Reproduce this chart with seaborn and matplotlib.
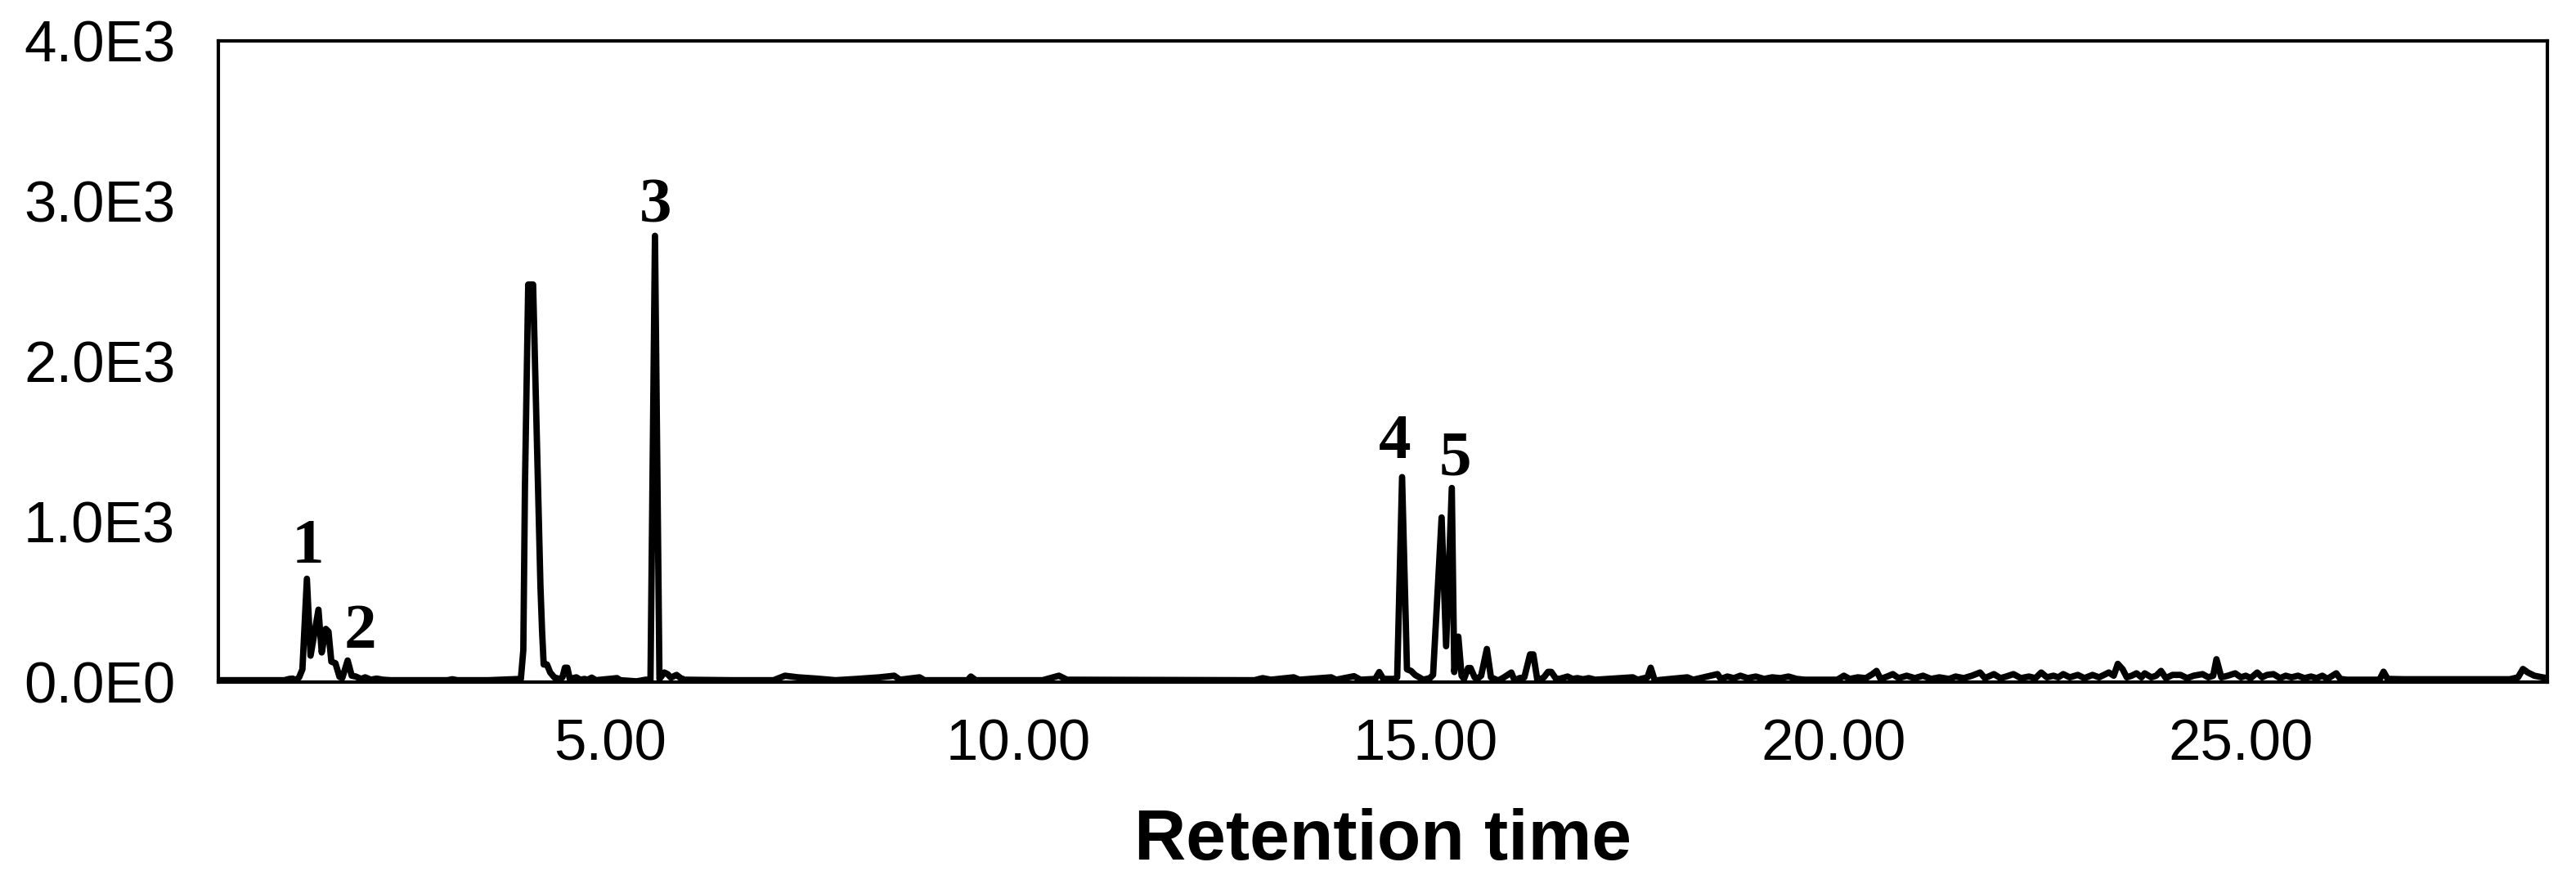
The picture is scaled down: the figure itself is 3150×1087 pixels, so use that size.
import pandas as pd
import seaborn as sns
import matplotlib
matplotlib.use("Agg")
import matplotlib.pyplot as plt

# Chromatogram trace (minutes, signal)
time_min = [
    0.19, 0.50, 0.80, 1.00, 1.06, 1.10, 1.14, 1.18, 1.22, 1.275, 1.32, 1.417,
    1.457, 1.507, 1.54, 1.575, 1.625, 1.675, 1.71, 1.775, 1.825, 1.875, 1.94,
    1.99, 2.06, 2.13, 2.21, 2.30, 2.60, 3.00, 3.06, 3.12, 3.50, 3.80, 3.88,
    3.90, 3.93, 3.95, 3.99, 4.05, 4.14, 4.16, 4.18, 4.22, 4.26, 4.31, 4.37,
    4.41, 4.44, 4.47, 4.50, 4.58, 4.63, 4.68, 4.72, 4.77, 4.82, 5.08, 5.12,
    5.32, 5.43, 5.49, 5.545, 5.60, 5.66, 5.70, 5.74, 5.81, 5.86, 5.91, 6.50,
    7.00, 7.14, 7.30, 7.53, 7.76, 8.02, 8.30, 8.48, 8.55, 8.79, 8.85, 9.38,
    9.42, 9.48, 10.30, 10.50, 10.60, 12.90, 13.00, 13.10, 13.38, 13.45, 13.84,
    13.90, 14.12, 14.20, 14.38, 14.43, 14.48, 14.62, 14.65, 14.71, 14.77,
    14.82, 14.87, 14.92, 14.97, 15.05, 15.09, 15.195, 15.25, 15.32, 15.35,
    15.40, 15.44, 15.47, 15.52, 15.55, 15.60, 15.63, 15.68, 15.75, 15.80,
    15.89, 15.96, 16.05, 16.09, 16.15, 16.21, 16.28, 16.32, 16.37, 16.45,
    16.50, 16.54, 16.60, 16.64, 16.74, 16.80, 16.86, 16.93, 17.00, 17.08,
    17.54, 17.60, 17.72, 17.76, 17.81, 17.90, 18.21, 18.28, 18.58, 18.62,
    18.70, 18.78, 18.86, 18.95, 19.05, 19.15, 19.25, 19.35, 19.45, 19.55,
    19.65, 20.05, 20.13, 20.20, 20.30, 20.40, 20.48, 20.53, 20.58, 20.66,
    20.73, 20.80, 20.90, 21.00, 21.10, 21.20, 21.30, 21.42, 21.50, 21.60,
    21.70, 21.80, 21.86, 21.97, 22.05, 22.12, 22.21, 22.30, 22.40, 22.48,
    22.55, 22.62, 22.70, 22.76, 22.82, 22.90, 23.00, 23.08, 23.18, 23.26,
    23.38, 23.44, 23.49, 23.55, 23.60, 23.66, 23.72, 23.78, 23.82, 23.90,
    23.96, 24.02, 24.08, 24.16, 24.26, 24.34, 24.42, 24.53, 24.60, 24.66,
    24.70, 24.76, 24.84, 24.93, 25.00, 25.06, 25.12, 25.20, 25.26, 25.32,
    25.40, 25.48, 25.55, 25.62, 25.70, 25.78, 25.86, 25.93, 26.00, 26.06,
    26.17, 26.22, 26.30, 26.70, 26.75, 26.80, 27.00, 27.50, 28.30, 28.40,
    28.46, 28.52, 28.60, 28.70, 28.76,
]
signal = [
    12, 12, 12, 12, 20, 22, 12, 30, 80, 645, 165, 452,
    185, 332, 315, 128, 118, 33, 27, 135, 40, 35, 20,
    30, 15, 22, 15, 12, 12, 12, 18, 12, 12, 18, 20,
    20, 200, 1220, 2480, 2480, 600, 320, 110, 110, 60, 30, 20,
    30, 90, 90, 20, 30, 15, 20, 15, 28, 12, 25, 12,
    5, 15, 15, 2784, 20, 60, 50, 28, 45, 25, 15, 12,
    12, 40, 30, 22, 12, 20, 30, 40, 15, 30, 12, 12,
    35, 12, 12, 40, 15, 12, 25, 15, 30, 15, 30,
    15, 37, 15, 20, 63, 20, 20, 30, 1279, 80,
    70, 45, 30, 15, 25, 45, 1027, 224, 1211, 63,
    284, 40, 20, 88, 88, 30, 20, 40, 207, 30,
    10, 30, 60, 10, 25, 30, 173, 173, 10, 30,
    64, 64, 20, 20, 35, 20, 25, 18, 25, 15,
    30, 15, 30, 90, 10, 15, 30, 15, 50, 20,
    35, 25, 40, 25, 35, 20, 30, 25, 35, 20,
    15, 15, 40, 20, 30, 25, 50, 70, 20, 35,
    50, 25, 40, 25, 40, 20, 30, 20, 35, 25,
    40, 60, 25, 50, 25, 35, 50, 25, 35, 25,
    60, 30, 40, 30, 50, 30, 45, 25, 45, 30,
    60, 40, 114, 80, 30, 40, 55, 30, 55, 30,
    40, 70, 25, 45, 45, 25, 40, 50, 30, 40,
    143, 30, 40, 55, 30, 40, 25, 60, 30, 45,
    50, 25, 40, 30, 40, 25, 35, 25, 40, 20,
    55, 20, 15, 15, 65, 20, 18, 18, 18, 30,
    82, 60, 40, 30, 25,
]

# Peak labels: name, retention time, height of the label baseline
peak_names = ["1", "2", "3", "4", "5"]
peak_label_t = [1.29, 1.93, 5.55, 14.62, 15.36]
peak_label_y = [745, 216, 2870, 1398, 1296]

x_ticks = [5, 10, 15, 20, 25]
x_tick_labels = ["5.00", "10.00", "15.00", "20.00", "25.00"]
y_ticks = [0, 1000, 2000, 3000, 4000]
y_tick_labels = ["0.0E0", "1.0E3", "2.0E3", "3.0E3", "4.0E3"]

df = pd.DataFrame({"time": time_min, "signal": signal})

sns.set_style("white")
plt.rcParams["font.family"] = ["Liberation Sans", "DejaVu Sans"]
plt.rcParams["text.color"] = "black"
plt.rcParams["axes.labelcolor"] = "black"

fig = plt.figure(figsize=(31.5, 10.87), dpi=100)
ax = fig.add_axes([0.0848, 0.2327, 0.9041, 0.7213])

sns.lineplot(data=df, x="time", y="signal", color="black", linewidth=5.6,
             estimator=None, sort=False, ax=ax)

for name, t, y in zip(peak_names, peak_label_t, peak_label_y):
    ax.text(t, y, name, ha="center", va="baseline", fontsize=57,
            fontweight="bold", color="black",
            family=["Liberation Serif", "DejaVu Serif"])

ax.set_xlim(0.19, 28.76)
ax.set_ylim(0, 4000)
ax.set_xticks(x_ticks)
ax.set_xticklabels(x_tick_labels)
ax.set_yticks(y_ticks)
ax.set_yticklabels(y_tick_labels)
ax.tick_params(axis="both", direction="out", length=12, width=2,
               labelsize=51, color="black", labelcolor="black")
ax.tick_params(axis="y", pad=26)
ax.tick_params(axis="x", pad=20)

for side in ["left", "right", "top", "bottom"]:
    ax.spines[side].set_visible(True)
    ax.spines[side].set_color("black")
    ax.spines[side].set_linewidth(3)

ax.set_xlabel("Retention time", fontsize=63, fontweight="bold", labelpad=31)
ax.set_ylabel("")

fig.savefig("out.png", dpi=100, facecolor="white")
